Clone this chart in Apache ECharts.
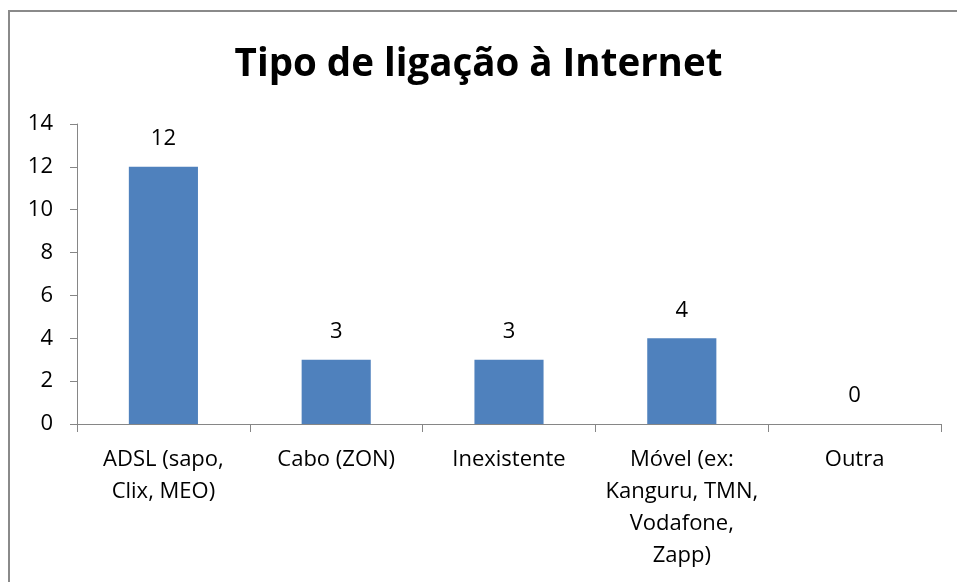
<!DOCTYPE html>
<html>
<head>
<meta charset="utf-8">
<script src="https://cdn.jsdelivr.net/npm/echarts@6/dist/echarts.min.js"></script>
<style>
html,body{margin:0;padding:0;background:#fff;}
#c{width:957px;height:582px;}
</style>
</head>
<body>
<div id="c"></div>
<script>
const titleText = 'Tipo de ligação à Internet';
const categories = ['ADSL (sapo,\nClix, MEO)', 'Cabo (ZON)', 'Inexistente', 'Móvel (ex:\nKanguru, TMN,\nVodafone,\nZapp)', 'Outra'];
const values = [12, 3, 3, 4, 0];
const yTicks = [0, 2, 4, 6, 8, 10, 12, 14];

const FONT = '"Open Sans", "Noto Sans", sans-serif';
const chart = echarts.init(document.getElementById('c'), null, {renderer: 'canvas'});
chart.setOption({
  animation: false,
  backgroundColor: '#fff',
  title: {
    text: titleText,
    left: 'center',
    top: 37,
    textStyle: {fontFamily: FONT, fontWeight: 'bold', fontSize: 38.5, color: '#000', lineHeight: 46}
  },
  graphic: [{
    type: 'rect',
    shape: {x: 9, y: 11, width: 1000, height: 1000},
    style: {fill: 'none', stroke: '#8a8a8a', lineWidth: 2},
    silent: true
  }],
  grid: {left: 77, right: 16, top: 124, bottom: 158, containLabel: false},
  xAxis: {
    type: 'category',
    data: categories,
    axisLine: {lineStyle: {color: '#868686', width: 1}},
    axisTick: {show: true, alignWithLabel: false, length: 8, lineStyle: {color: '#868686'}},
    axisLabel: {interval: 0, margin: 20, fontFamily: FONT, fontSize: 22, color: '#000', lineHeight: 32, align: 'center'},
    splitLine: {show: false}
  },
  yAxis: {
    type: 'value',
    min: yTicks[0],
    max: yTicks[yTicks.length - 1],
    interval: 2,
    axisLine: {show: true, lineStyle: {color: '#868686', width: 1}},
    axisTick: {show: true, length: 7, lineStyle: {color: '#868686'}},
    axisLabel: {margin: 24, fontFamily: FONT, fontSize: 22, color: '#000'},
    splitLine: {show: false}
  },
  series: [{
    type: 'bar',
    data: values,
    barWidth: '40%',
    itemStyle: {color: '#4F81BD'},
    label: {show: true, position: 'top', distance: 17, fontFamily: FONT, fontSize: 22, color: '#000'}
  }]
});
</script>
</body>
</html>
